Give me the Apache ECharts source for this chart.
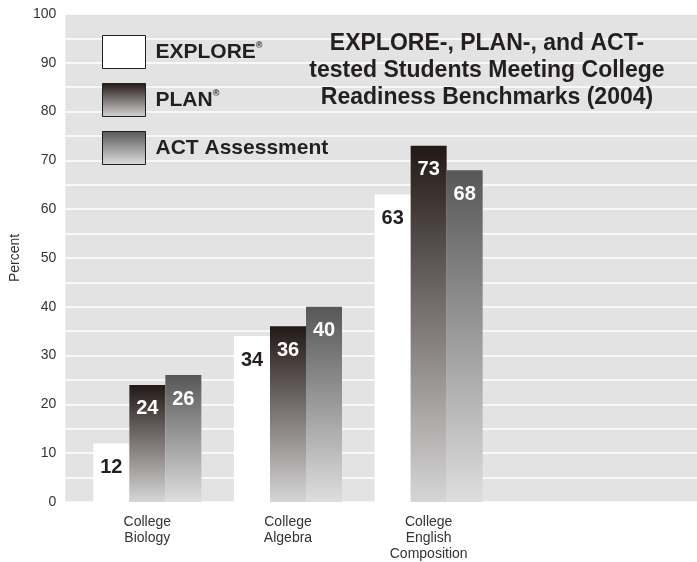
<!DOCTYPE html>
<html><head><meta charset="utf-8">
<script src="https://cdn.jsdelivr.net/npm/echarts@6/dist/echarts.min.js"></script>
<style>html,body{margin:0;padding:0;background:#fff}#c{width:697px;height:562px}</style>
</head><body><div id="c"></div>
<script>
const categories = ['College\nBiology', 'College\nAlgebra', 'College\nEnglish\nComposition'];
const seriesNames = ['EXPLORE', 'PLAN', 'ACT Assessment'];
const explore = [12, 34, 63];
const plan = [24, 36, 73];
const act = [26, 40, 68];
const yTicks = [0, 10, 20, 30, 40, 50, 60, 70, 80, 90, 100];
const titleText = 'EXPLORE-, PLAN-, and ACT-\ntested Students Meeting College\nReadiness Benchmarks (2004)';

const FONT = '"Liberation Sans", Arial, sans-serif';
const dark = '#231f20';
function grad(top, bottom) {
  return new echarts.graphic.LinearGradient(0, 0, 0, 1, [{offset: 0, color: top}, {offset: 1, color: bottom}]);
}
const lab = (color) => ({
  show: true, position: 'insideTop', distance: 14, color: color,
  fontFamily: FONT, fontWeight: 'bold', fontSize: 20
});
const chart = echarts.init(document.getElementById('c'));
chart.setOption({
  animation: false,
  backgroundColor: '#ffffff',
  title: {
    text: titleText, left: 487, top: 30, textAlign: 'center', padding: 0,
    textStyle: {fontFamily: FONT, fontWeight: 'bold', fontSize: 23, color: dark, lineHeight: 27}
  },
  legend: {
    orient: 'vertical', left: 102, top: 35, padding: 0, itemWidth: 43, itemHeight: 33, itemGap: 14,
    icon: 'rect',
    itemStyle: {borderColor: dark, borderWidth: 1},
    data: seriesNames,
    formatter: function (n) { return n === 'ACT Assessment' ? '{a|' + n + '}' : '{a|' + n + '}{r|®}'; },
    textStyle: {
      padding: [0, 0, 0, 5],
      rich: {
        a: {fontFamily: FONT, fontWeight: 'bold', fontSize: 21, color: dark},
        r: {fontFamily: FONT, fontWeight: 'bold', fontSize: 9, color: dark, verticalAlign: 'top', padding: [0, 0, 9, 0]}
      }
    }
  },
  grid: [
    {left: 60, right: 0, top: 14, bottom: 60, show: true, backgroundColor: '#e3e3e3', borderWidth: 0},
    {left: 77, width: 422, top: 14, bottom: 60}
  ],
  xAxis: [
    {gridIndex: 0, type: 'value', min: 0, max: 1, show: false},
    {gridIndex: 1, type: 'category', data: categories,
     axisLine: {show: false}, axisTick: {show: false},
     axisLabel: {margin: 12, fontFamily: FONT, fontSize: 14, color: '#333', lineHeight: 16}}
  ],
  yAxis: [
    {gridIndex: 0, type: 'value', min: 0, max: 100, interval: 5,
     name: 'Percent', nameLocation: 'middle', nameGap: 31,
     nameTextStyle: {fontFamily: FONT, fontSize: 14, color: '#333'},
     axisLine: {show: false}, axisTick: {show: false},
     splitLine: {show: true, lineStyle: {color: '#ffffff', width: 1.5}},
     axisLabel: {margin: 9, fontFamily: FONT, fontSize: 14, color: '#333',
       formatter: function (v) { return yTicks.indexOf(v) >= 0 ? String(v) : ''; }}},
    {gridIndex: 1, type: 'value', min: 0, max: 100, show: false}
  ],
  series: [
    {name: seriesNames[0], type: 'bar', xAxisIndex: 1, yAxisIndex: 1, data: explore,
     barWidth: 36, barGap: '0%', itemStyle: {color: '#ffffff'}, label: lab(dark)},
    {name: seriesNames[1], type: 'bar', xAxisIndex: 1, yAxisIndex: 1, data: plan,
     barWidth: 36, barGap: '0%', itemStyle: {color: grad('#231815', '#d6d6d6')}, label: lab('#ffffff')},
    {name: seriesNames[2], type: 'bar', xAxisIndex: 1, yAxisIndex: 1, data: act,
     barWidth: 36, barGap: '0%', itemStyle: {color: grad('#575757', '#dedede')}, label: lab('#ffffff')}
  ]
});
</script></body></html>
